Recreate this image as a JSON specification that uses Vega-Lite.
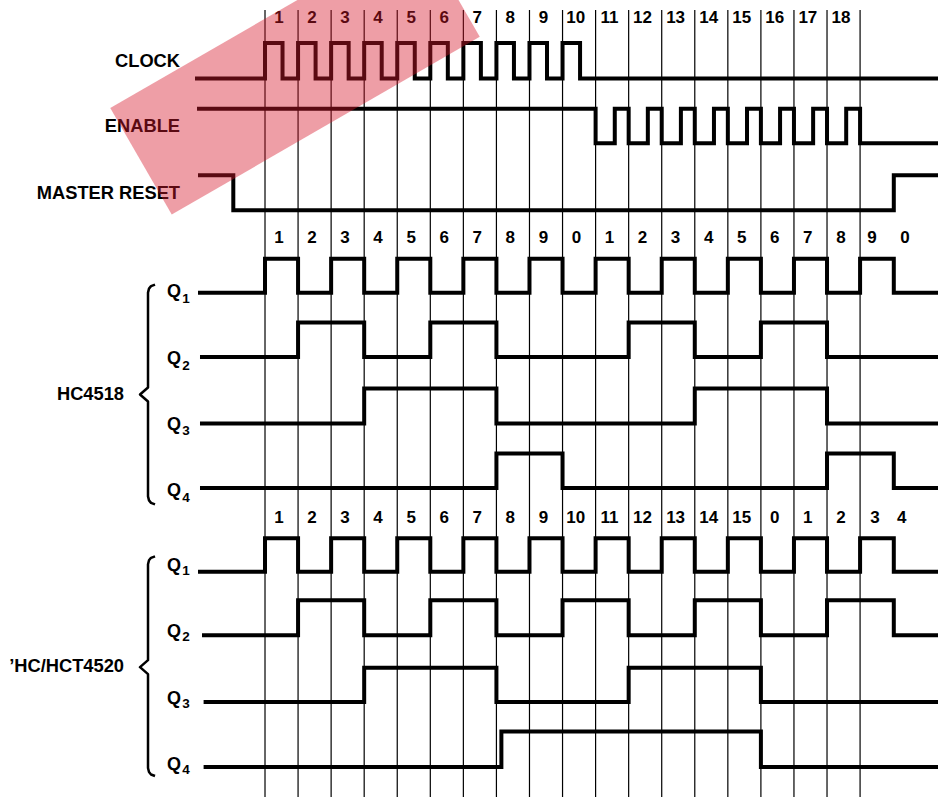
{
  "$schema": "https://vega.github.io/schema/vega-lite/v6.json",
  "width": 938,
  "height": 798,
  "autosize": {"type": "fit", "contains": "padding"},
  "padding": 0,
  "background": "white",
  "config": {"view": {"stroke": null}, "font": "Liberation Sans"},
  "datasets": {
    "signals": [
      {"s": "CLOCK", "t": -2.057, "y": 78.5}, {"s": "CLOCK", "t": 0, "y": 43}, {"s": "CLOCK", "t": 0.53, "y": 78.5},
      {"s": "CLOCK", "t": 1, "y": 43}, {"s": "CLOCK", "t": 1.53, "y": 78.5}, {"s": "CLOCK", "t": 2, "y": 43}, {"s": "CLOCK", "t": 2.53, "y": 78.5},
      {"s": "CLOCK", "t": 3, "y": 43}, {"s": "CLOCK", "t": 3.53, "y": 78.5}, {"s": "CLOCK", "t": 4, "y": 43}, {"s": "CLOCK", "t": 4.53, "y": 78.5},
      {"s": "CLOCK", "t": 5, "y": 43}, {"s": "CLOCK", "t": 5.53, "y": 78.5}, {"s": "CLOCK", "t": 6, "y": 43}, {"s": "CLOCK", "t": 6.53, "y": 78.5},
      {"s": "CLOCK", "t": 7, "y": 43}, {"s": "CLOCK", "t": 7.53, "y": 78.5}, {"s": "CLOCK", "t": 8, "y": 43}, {"s": "CLOCK", "t": 8.53, "y": 78.5},
      {"s": "CLOCK", "t": 9, "y": 43}, {"s": "CLOCK", "t": 9.53, "y": 78.5}, {"s": "CLOCK", "t": 20.36, "y": 78.5},

      {"s": "ENABLE", "t": -1.996, "y": 109}, {"s": "ENABLE", "t": 10, "y": 143.5}, {"s": "ENABLE", "t": 10.58, "y": 109},
      {"s": "ENABLE", "t": 11, "y": 143.5}, {"s": "ENABLE", "t": 11.58, "y": 109}, {"s": "ENABLE", "t": 12, "y": 143.5}, {"s": "ENABLE", "t": 12.58, "y": 109},
      {"s": "ENABLE", "t": 13, "y": 143.5}, {"s": "ENABLE", "t": 13.58, "y": 109}, {"s": "ENABLE", "t": 14, "y": 143.5}, {"s": "ENABLE", "t": 14.58, "y": 109},
      {"s": "ENABLE", "t": 15, "y": 143.5}, {"s": "ENABLE", "t": 15.58, "y": 109}, {"s": "ENABLE", "t": 16, "y": 143.5}, {"s": "ENABLE", "t": 16.58, "y": 109},
      {"s": "ENABLE", "t": 17, "y": 143.5}, {"s": "ENABLE", "t": 17.58, "y": 109}, {"s": "ENABLE", "t": 18, "y": 143.5}, {"s": "ENABLE", "t": 20.36, "y": 143.5},

      {"s": "MR", "t": -1.966, "y": 175.5}, {"s": "MR", "t": -0.959, "y": 210.5}, {"s": "MR", "t": 19.02, "y": 175.5}, {"s": "MR", "t": 20.36, "y": 175.5},

      {"s": "A1", "t": -1.966, "y": 293}, {"s": "A1", "t": 0, "y": 259}, {"s": "A1", "t": 1, "y": 293}, {"s": "A1", "t": 2, "y": 259},
      {"s": "A1", "t": 3, "y": 293}, {"s": "A1", "t": 4, "y": 259}, {"s": "A1", "t": 5, "y": 293}, {"s": "A1", "t": 6, "y": 259},
      {"s": "A1", "t": 7, "y": 293}, {"s": "A1", "t": 8, "y": 259}, {"s": "A1", "t": 9, "y": 293}, {"s": "A1", "t": 10, "y": 259},
      {"s": "A1", "t": 11, "y": 293}, {"s": "A1", "t": 12, "y": 259}, {"s": "A1", "t": 13, "y": 293}, {"s": "A1", "t": 14, "y": 259},
      {"s": "A1", "t": 15, "y": 293}, {"s": "A1", "t": 16, "y": 259}, {"s": "A1", "t": 17, "y": 293}, {"s": "A1", "t": 18, "y": 259},
      {"s": "A1", "t": 19.02, "y": 293}, {"s": "A1", "t": 20.36, "y": 293},

      {"s": "A2", "t": -1.906, "y": 357.5}, {"s": "A2", "t": 1, "y": 323}, {"s": "A2", "t": 3, "y": 357.5}, {"s": "A2", "t": 5, "y": 323},
      {"s": "A2", "t": 7, "y": 357.5}, {"s": "A2", "t": 11, "y": 323}, {"s": "A2", "t": 13, "y": 357.5}, {"s": "A2", "t": 15, "y": 323},
      {"s": "A2", "t": 17, "y": 357.5}, {"s": "A2", "t": 20.36, "y": 357.5},

      {"s": "A3", "t": -1.906, "y": 424}, {"s": "A3", "t": 3, "y": 389}, {"s": "A3", "t": 7, "y": 424}, {"s": "A3", "t": 13, "y": 389},
      {"s": "A3", "t": 17, "y": 424}, {"s": "A3", "t": 20.36, "y": 424},

      {"s": "A4", "t": -1.906, "y": 488.5}, {"s": "A4", "t": 7, "y": 454}, {"s": "A4", "t": 9, "y": 488.5}, {"s": "A4", "t": 17, "y": 454},
      {"s": "A4", "t": 19.02, "y": 488.5}, {"s": "A4", "t": 20.36, "y": 488.5},

      {"s": "B1", "t": -1.966, "y": 572.5}, {"s": "B1", "t": 0, "y": 539}, {"s": "B1", "t": 1, "y": 572.5}, {"s": "B1", "t": 2, "y": 539},
      {"s": "B1", "t": 3, "y": 572.5}, {"s": "B1", "t": 4, "y": 539}, {"s": "B1", "t": 5, "y": 572.5}, {"s": "B1", "t": 6, "y": 539},
      {"s": "B1", "t": 7, "y": 572.5}, {"s": "B1", "t": 8, "y": 539}, {"s": "B1", "t": 9, "y": 572.5}, {"s": "B1", "t": 10, "y": 539},
      {"s": "B1", "t": 11, "y": 572.5}, {"s": "B1", "t": 12, "y": 539}, {"s": "B1", "t": 13, "y": 572.5}, {"s": "B1", "t": 14, "y": 539},
      {"s": "B1", "t": 15, "y": 572.5}, {"s": "B1", "t": 16, "y": 539}, {"s": "B1", "t": 17, "y": 572.5}, {"s": "B1", "t": 18, "y": 539},
      {"s": "B1", "t": 19.02, "y": 572.5}, {"s": "B1", "t": 20.36, "y": 572.5},

      {"s": "B2", "t": -1.845, "y": 636}, {"s": "B2", "t": 1, "y": 601}, {"s": "B2", "t": 3, "y": 636}, {"s": "B2", "t": 5, "y": 601},
      {"s": "B2", "t": 7, "y": 636}, {"s": "B2", "t": 9, "y": 601}, {"s": "B2", "t": 11, "y": 636}, {"s": "B2", "t": 13, "y": 601},
      {"s": "B2", "t": 15, "y": 636}, {"s": "B2", "t": 17, "y": 601}, {"s": "B2", "t": 19.02, "y": 636}, {"s": "B2", "t": 20.36, "y": 636},

      {"s": "B3", "t": -1.797, "y": 703}, {"s": "B3", "t": 3, "y": 668.5}, {"s": "B3", "t": 7, "y": 703}, {"s": "B3", "t": 11, "y": 668.5},
      {"s": "B3", "t": 15, "y": 703}, {"s": "B3", "t": 20.36, "y": 703},

      {"s": "B4", "t": -1.797, "y": 768}, {"s": "B4", "t": 7.15, "y": 732.5}, {"s": "B4", "t": 15, "y": 768}, {"s": "B4", "t": 20.36, "y": 768}
    ],
    "grid": [
      {"t": 0}, {"t": 1}, {"t": 2}, {"t": 3}, {"t": 4}, {"t": 5}, {"t": 6}, {"t": 7}, {"t": 8}, {"t": 9},
      {"t": 10}, {"t": 11}, {"t": 12}, {"t": 13}, {"t": 14}, {"t": 15}, {"t": 16}, {"t": 17}, {"t": 18}
    ],
    "numbers": [
      {"txt": "1", "t": 0.42, "y": 18}, {"txt": "2", "t": 1.42, "y": 18}, {"txt": "3", "t": 2.42, "y": 18}, {"txt": "4", "t": 3.42, "y": 18},
      {"txt": "5", "t": 4.42, "y": 18}, {"txt": "6", "t": 5.42, "y": 18}, {"txt": "7", "t": 6.42, "y": 18}, {"txt": "8", "t": 7.42, "y": 18},
      {"txt": "9", "t": 8.42, "y": 18}, {"txt": "10", "t": 9.4, "y": 18}, {"txt": "11", "t": 10.42, "y": 18}, {"txt": "12", "t": 11.42, "y": 18},
      {"txt": "13", "t": 12.42, "y": 18}, {"txt": "14", "t": 13.42, "y": 18}, {"txt": "15", "t": 14.42, "y": 18}, {"txt": "16", "t": 15.42, "y": 18},
      {"txt": "17", "t": 16.42, "y": 18}, {"txt": "18", "t": 17.42, "y": 18},

      {"txt": "1", "t": 0.42, "y": 238.5}, {"txt": "2", "t": 1.42, "y": 238.5}, {"txt": "3", "t": 2.42, "y": 238.5}, {"txt": "4", "t": 3.42, "y": 238.5},
      {"txt": "5", "t": 4.42, "y": 238.5}, {"txt": "6", "t": 5.42, "y": 238.5}, {"txt": "7", "t": 6.42, "y": 238.5}, {"txt": "8", "t": 7.42, "y": 238.5},
      {"txt": "9", "t": 8.42, "y": 238.5}, {"txt": "0", "t": 9.42, "y": 238.5}, {"txt": "1", "t": 10.42, "y": 238.5}, {"txt": "2", "t": 11.42, "y": 238.5},
      {"txt": "3", "t": 12.42, "y": 238.5}, {"txt": "4", "t": 13.42, "y": 238.5}, {"txt": "5", "t": 14.42, "y": 238.5}, {"txt": "6", "t": 15.42, "y": 238.5},
      {"txt": "7", "t": 16.42, "y": 238.5}, {"txt": "8", "t": 17.42, "y": 238.5}, {"txt": "9", "t": 18.36, "y": 238.5}, {"txt": "0", "t": 19.36, "y": 238.5},

      {"txt": "1", "t": 0.42, "y": 518.5}, {"txt": "2", "t": 1.42, "y": 518.5}, {"txt": "3", "t": 2.42, "y": 518.5}, {"txt": "4", "t": 3.42, "y": 518.5},
      {"txt": "5", "t": 4.42, "y": 518.5}, {"txt": "6", "t": 5.42, "y": 518.5}, {"txt": "7", "t": 6.42, "y": 518.5}, {"txt": "8", "t": 7.42, "y": 518.5},
      {"txt": "9", "t": 8.42, "y": 518.5}, {"txt": "10", "t": 9.4, "y": 518.5}, {"txt": "11", "t": 10.42, "y": 518.5}, {"txt": "12", "t": 11.42, "y": 518.5},
      {"txt": "13", "t": 12.42, "y": 518.5}, {"txt": "14", "t": 13.42, "y": 518.5}, {"txt": "15", "t": 14.42, "y": 518.5}, {"txt": "0", "t": 15.42, "y": 518.5},
      {"txt": "1", "t": 16.42, "y": 518.5}, {"txt": "2", "t": 17.42, "y": 518.5}, {"txt": "3", "t": 18.45, "y": 518.5}, {"txt": "4", "t": 19.26, "y": 518.5}
    ],
    "names": [
      {"txt": "CLOCK", "t": -2.571, "y": 62},
      {"txt": "ENABLE", "t": -2.571, "y": 126.7},
      {"txt": "MASTER RESET", "t": -2.571, "y": 194},
      {"txt": "HC4518", "t": -4.265, "y": 395},
      {"txt": "’HC/HCT4520", "t": -4.265, "y": 668}
    ],
    "qs": [
      {"txt": "Q", "t": -2.964, "y": 292}, {"txt": "Q", "t": -2.964, "y": 359}, {"txt": "Q", "t": -2.964, "y": 426}, {"txt": "Q", "t": -2.964, "y": 492},
      {"txt": "Q", "t": -2.964, "y": 567}, {"txt": "Q", "t": -2.964, "y": 633}, {"txt": "Q", "t": -2.964, "y": 699.7}, {"txt": "Q", "t": -2.964, "y": 766}
    ],
    "subs": [
      {"txt": "1", "t": -2.5, "y": 299.5}, {"txt": "2", "t": -2.5, "y": 366}, {"txt": "3", "t": -2.5, "y": 432}, {"txt": "4", "t": -2.5, "y": 499},
      {"txt": "1", "t": -2.5, "y": 572}, {"txt": "2", "t": -2.5, "y": 638}, {"txt": "3", "t": -2.5, "y": 705}, {"txt": "4", "t": -2.5, "y": 771}
    ],
    "braces": [
      {"b": "A", "i": 0, "t": -3.327, "y": 285}, {"b": "A", "i": 1, "t": -3.448, "y": 286.5}, {"b": "A", "i": 2, "t": -3.509, "y": 289},
      {"b": "A", "i": 3, "t": -3.539, "y": 293}, {"b": "A", "i": 4, "t": -3.539, "y": 388}, {"b": "A", "i": 5, "t": -3.781, "y": 395},
      {"b": "A", "i": 6, "t": -3.539, "y": 402}, {"b": "A", "i": 7, "t": -3.539, "y": 497}, {"b": "A", "i": 8, "t": -3.509, "y": 501},
      {"b": "A", "i": 9, "t": -3.448, "y": 503.5}, {"b": "A", "i": 10, "t": -3.327, "y": 505},
      {"b": "B", "i": 0, "t": -3.327, "y": 557}, {"b": "B", "i": 1, "t": -3.448, "y": 558.5}, {"b": "B", "i": 2, "t": -3.509, "y": 561},
      {"b": "B", "i": 3, "t": -3.539, "y": 565}, {"b": "B", "i": 4, "t": -3.539, "y": 661}, {"b": "B", "i": 5, "t": -3.781, "y": 668},
      {"b": "B", "i": 6, "t": -3.539, "y": 675}, {"b": "B", "i": 7, "t": -3.539, "y": 769}, {"b": "B", "i": 8, "t": -3.509, "y": 773},
      {"b": "B", "i": 9, "t": -3.448, "y": 775.5}, {"b": "B", "i": 10, "t": -3.327, "y": 777}
    ],
    "watermark": [
      {"i": 0, "t": -3.751, "y": 161.5},
      {"i": 1, "t": 5.566, "y": -16.5}
    ]
  },
  "layer": [
    {
      "data": {"name": "grid"},
      "mark": {"type": "rule", "color": "black", "strokeWidth": 1.2},
      "encoding": {
        "x": {"field": "t", "type": "quantitative", "axis": null, "scale": {"domain": [-8.016, 20.357], "nice": false, "zero": false}},
        "y": {"datum": 10, "type": "quantitative", "axis": null, "scale": {"domain": [0, 798], "reverse": true, "nice": false, "zero": false}},
        "y2": {"datum": 798}
      }
    },
    {
      "data": {"name": "signals"},
      "mark": {"type": "line", "interpolate": "step-after", "color": "black", "strokeWidth": 4, "strokeCap": "square", "clip": true},
      "encoding": {
        "x": {"field": "t", "type": "quantitative", "axis": null, "scale": {"domain": [-8.016, 20.357], "nice": false, "zero": false}},
        "y": {"field": "y", "type": "quantitative", "axis": null, "scale": {"domain": [0, 798], "reverse": true, "nice": false, "zero": false}},
        "detail": {"field": "s", "type": "nominal"}
      }
    },
    {
      "data": {"name": "braces"},
      "mark": {"type": "line", "color": "black", "strokeWidth": 2.5, "strokeJoin": "round"},
      "encoding": {
        "x": {"field": "t", "type": "quantitative", "axis": null, "scale": {"domain": [-8.016, 20.357], "nice": false, "zero": false}},
        "y": {"field": "y", "type": "quantitative", "axis": null, "scale": {"domain": [0, 798], "reverse": true, "nice": false, "zero": false}},
        "detail": {"field": "b", "type": "nominal"},
        "order": {"field": "i", "type": "quantitative"}
      }
    },
    {
      "data": {"name": "numbers"},
      "mark": {"type": "text", "fontWeight": "bold", "fontSize": 17, "align": "center", "baseline": "middle", "color": "black"},
      "encoding": {
        "x": {"field": "t", "type": "quantitative", "axis": null, "scale": {"domain": [-8.016, 20.357], "nice": false, "zero": false}},
        "y": {"field": "y", "type": "quantitative", "axis": null, "scale": {"domain": [0, 798], "reverse": true, "nice": false, "zero": false}},
        "text": {"field": "txt", "type": "nominal"}
      }
    },
    {
      "data": {"name": "names"},
      "mark": {"type": "text", "fontWeight": "bold", "fontSize": 18.3, "align": "right", "baseline": "middle", "color": "black"},
      "encoding": {
        "x": {"field": "t", "type": "quantitative", "axis": null, "scale": {"domain": [-8.016, 20.357], "nice": false, "zero": false}},
        "y": {"field": "y", "type": "quantitative", "axis": null, "scale": {"domain": [0, 798], "reverse": true, "nice": false, "zero": false}},
        "text": {"field": "txt", "type": "nominal"}
      }
    },
    {
      "data": {"name": "qs"},
      "mark": {"type": "text", "fontWeight": "bold", "fontSize": 18, "align": "left", "baseline": "middle", "color": "black"},
      "encoding": {
        "x": {"field": "t", "type": "quantitative", "axis": null, "scale": {"domain": [-8.016, 20.357], "nice": false, "zero": false}},
        "y": {"field": "y", "type": "quantitative", "axis": null, "scale": {"domain": [0, 798], "reverse": true, "nice": false, "zero": false}},
        "text": {"field": "txt", "type": "nominal"}
      }
    },
    {
      "data": {"name": "subs"},
      "mark": {"type": "text", "fontWeight": "bold", "fontSize": 13.5, "align": "left", "baseline": "middle", "color": "black"},
      "encoding": {
        "x": {"field": "t", "type": "quantitative", "axis": null, "scale": {"domain": [-8.016, 20.357], "nice": false, "zero": false}},
        "y": {"field": "y", "type": "quantitative", "axis": null, "scale": {"domain": [0, 798], "reverse": true, "nice": false, "zero": false}},
        "text": {"field": "txt", "type": "nominal"}
      }
    },
    {
      "data": {"name": "watermark"},
      "mark": {"type": "line", "color": "#d6182a", "opacity": 0.42, "strokeWidth": 123, "strokeCap": "butt", "clip": true},
      "encoding": {
        "x": {"field": "t", "type": "quantitative", "axis": null, "scale": {"domain": [-8.016, 20.357], "nice": false, "zero": false}},
        "y": {"field": "y", "type": "quantitative", "axis": null, "scale": {"domain": [0, 798], "reverse": true, "nice": false, "zero": false}},
        "order": {"field": "i", "type": "quantitative"}
      }
    }
  ]
}
